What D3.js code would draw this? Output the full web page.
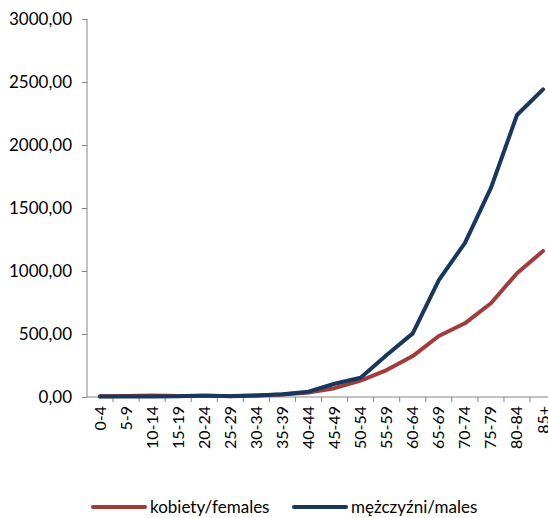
<!DOCTYPE html>
<html>
<head>
<meta charset="utf-8">
<script src="https://cdn.jsdelivr.net/npm/d3@7"></script>
<style>
	body { margin: 0; background: #fff; }
	text { font-family: Lato, "Open Sans", sans-serif; fill: #000; }
</style>
</head>
<body>
<div id="chart"></div>
<script>
const ageGroups = ["0-4", "5-9", "10-14", "15-19", "20-24", "25-29", "30-34", "35-39", "40-44",
	"45-49", "50-54", "55-59", "60-64", "65-69", "70-74", "75-79", "80-84", "85+"];
const females = [5, 8, 12, 7, 8, 8, 12, 20, 35, 70, 130, 214, 325, 484, 585, 744, 982, 1159];
const males = [3, 4, 4, 6, 12, 6, 12, 22, 42, 105, 153, 333, 505, 928, 1222, 1659, 2238, 2442];
const yTicks = [0, 500, 1000, 1500, 2000, 2500, 3000];
const seriesNames = ["kobiety/females", "mężczyźni/males"];
const palette = { "kobiety/females": "#A33B3A", "mężczyźni/males": "#17375E" };

let canvasWidth = 548;
let canvasHeight = 518;
let margin = { top: 19, left: 87, bottom: 121 };
let plotBottom = canvasHeight - margin.bottom;

let x = d3.scaleBand().domain(ageGroups).range([margin.left, margin.left + 18 * 26.06]).padding(0);
let y = d3.scaleLinear().domain([0, 3000]).range([plotBottom, margin.top]);

let svg = d3.select("#chart").append("svg")
	.attr("width", canvasWidth)
	.attr("height", canvasHeight);

// y axis
let yAxis = svg.append("g")
	.attr("transform", "translate(" + margin.left + ",0)")
	.call(d3.axisLeft(y).tickValues(yTicks).tickSize(5).tickPadding(10)
		.tickFormat((d) => d3.format(".2f")(d).replace(".", ",")));
yAxis.selectAll("line, path").attr("stroke", "#868686");
yAxis.select("path").attr("d", "M0," + plotBottom + "V" + margin.top);
yAxis.selectAll("text").attr("font-size", 17).attr("font-family", "Lato, sans-serif").attr("fill", "#000");

// x axis
let xAxis = svg.append("g").attr("transform", "translate(0," + plotBottom + ")");
xAxis.append("line")
	.attr("x1", margin.left).attr("x2", canvasWidth)
	.attr("stroke", "#868686");
xAxis.selectAll(".tk")
	.data(ageGroups.map((d) => x(d) + x.bandwidth()))
	.enter().append("line")
	.attr("x1", (o) => o).attr("x2", (o) => o)
	.attr("y1", 0).attr("y2", 5)
	.attr("stroke", "#868686");
xAxis.selectAll(".lbl")
	.data(ageGroups)
	.enter().append("text")
	.attr("transform", (d) => "translate(" + (x(d) + x.bandwidth() / 2 + 5.5) + ",9) rotate(-90)")
	.attr("text-anchor", "end")
	.attr("font-size", 16)
	.text((d) => d);

// lines
let line = d3.line()
	.x((d, i) => x(ageGroups[i]) + x.bandwidth() / 2)
	.y((d) => y(d));

let series = [
	{ name: seriesNames[0], values: females },
	{ name: seriesNames[1], values: males }
];

svg.append("g").selectAll("path")
	.data(series)
	.enter().append("path")
	.attr("d", (o) => line(o.values))
	.attr("fill", "none")
	.attr("stroke", (o) => palette[o.name])
	.attr("stroke-width", 4)
	.attr("stroke-linejoin", "round")
	.attr("stroke-linecap", "round");

// legend
let legendPos = [93, 294];
let legend = svg.append("g").selectAll("g")
	.data(series)
	.enter().append("g")
	.attr("transform", (o, i) => "translate(" + legendPos[i] + ",507)");
legend.append("line")
	.attr("x1", 0).attr("x2", 52)
	.attr("stroke", (o) => palette[o.name])
	.attr("stroke-width", 4)
	.attr("stroke-linecap", "round");
legend.append("text")
	.attr("x", 57).attr("y", 6)
	.attr("font-size", 17)
	.text((o) => o.name);
</script>
</body>
</html>
